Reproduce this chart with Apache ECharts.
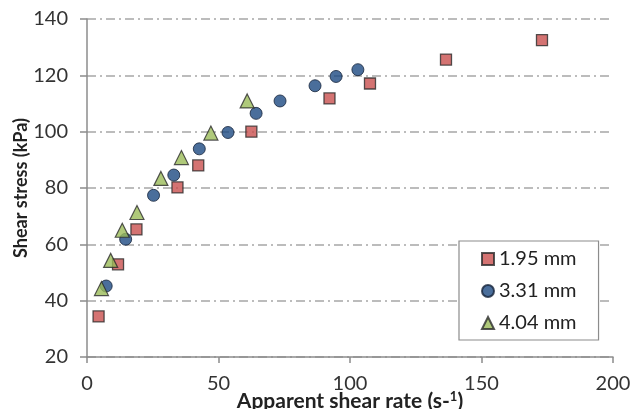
<!DOCTYPE html>
<html><head><meta charset="utf-8">
<script src="https://cdn.jsdelivr.net/npm/echarts@6/dist/echarts.min.js"></script>
<style>html,body{margin:0;padding:0;background:#fff}#c{width:630px;height:409px}</style>
</head><body><div id="c"></div>
<script>
const seriesNames = ['1.95 mm', '3.31 mm', '4.04 mm'];
const rate195 = [4.4, 11.8, 18.8, 34.4, 42.3, 62.5, 92.2, 107.6, 136.5, 173.0];
const stress195 = [34.4, 52.9, 65.3, 80.2, 88.0, 100.0, 111.8, 117.1, 125.6, 132.5];
const rate331 = [7.3, 14.7, 25.3, 33.0, 42.7, 53.6, 64.3, 73.4, 86.7, 94.7, 103.0];
const stress331 = [45.2, 61.8, 77.4, 84.6, 93.9, 99.7, 106.5, 110.9, 116.3, 119.6, 122.0];
const rate404 = [5.5, 9.0, 13.4, 19.0, 28.1, 35.9, 47.1, 60.9];
const stress404 = [44.3, 54.3, 65.0, 71.3, 83.4, 90.8, 99.5, 110.9];
const xTicks = [0, 50, 100, 150, 200];
const yTicks = [20, 40, 60, 80, 100, 120, 140];

const pair = (xs, ys) => xs.map((x, i) => [x, ys[i]]);
const font = 'Lato, "Liberation Sans", sans-serif';
const chart = echarts.init(document.getElementById('c'));
chart.setOption({
  animation: false,
  grid: { left: 87, right: 17, top: 19, bottom: 52, containLabel: false, outerBoundsMode: 'none' },
  xAxis: {
    type: 'value', min: xTicks[0], max: xTicks[xTicks.length - 1], interval: 50,
    name: 'Apparent shear rate (s-{sup|1})', nameLocation: 'middle', nameGap: 33, nameMoveOverlap: false,
    nameTextStyle: { fontFamily: font, fontSize: 21, fontWeight: 'bold', color: '#222',
      rich: { sup: { fontFamily: font, fontSize: 13, fontWeight: 'bold', color: '#222', verticalAlign: 'top', padding: [0, 0, 9, 0] } } },
    axisLine: { show: true, lineStyle: { color: '#8c8c8c', width: 1.5 } },
    axisTick: { show: true, length: 6, lineStyle: { color: '#8c8c8c', width: 1.5 } },
    axisLabel: { fontFamily: font, fontSize: 20, color: '#333', margin: 17 },
    splitLine: { show: false }
  },
  yAxis: {
    type: 'value', min: yTicks[0], max: yTicks[yTicks.length - 1], interval: 20,
    name: 'Shear stress (kPa)', nameLocation: 'middle', nameGap: 57, nameRotate: 90, nameMoveOverlap: false,
    nameTextStyle: { fontFamily: font, fontSize: 18, fontWeight: 'bold', color: '#222' },
    axisLine: { show: true, lineStyle: { color: '#8c8c8c', width: 1.5 } },
    axisTick: { show: true, length: 7, lineStyle: { color: '#8c8c8c', width: 1.5 } },
    axisLabel: { fontFamily: font, fontSize: 20, color: '#333', margin: 19 },
    splitLine: { show: true, lineStyle: { color: '#a6a6a6', width: 1.5, type: [9, 4, 2, 4] } }
  },
  legend: {
    orient: 'vertical', left: 459, top: 241,
    padding: [8, 22, 7, 22], itemGap: 12, itemWidth: 12, itemHeight: 12,
    borderColor: '#8c8c8c', borderWidth: 1.2, backgroundColor: '#fff',
    textStyle: { fontFamily: font, fontSize: 20, color: '#222', padding: [0, 0, 0, 0] },
    data: seriesNames
  },
  series: [
    { name: seriesNames[0], type: 'scatter', symbol: 'rect', symbolSize: 11,
      itemStyle: { color: '#c9504f', borderColor: '#2a2a2a', borderWidth: 1.3 },
      data: pair(rate195, stress195) },
    { name: seriesNames[1], type: 'scatter', symbol: 'circle', symbolSize: 12,
      itemStyle: { color: '#1d4a82', borderColor: '#15233a', borderWidth: 1 },
      data: pair(rate331, stress331) },
    { name: seriesNames[2], type: 'scatter', symbol: 'triangle', symbolSize: 14,
      itemStyle: { color: '#9bbb59', borderColor: '#2a2a2a', borderWidth: 1.2 },
      data: pair(rate404, stress404) }
  ]
});
</script></body></html>
